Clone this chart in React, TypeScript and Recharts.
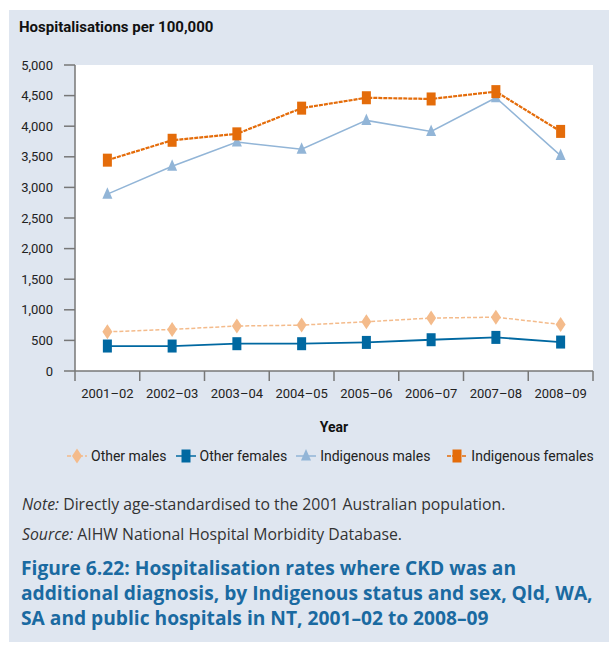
import React from "react";
import { CartesianGrid, Line, LineChart, XAxis, YAxis } from "recharts";

const years = ["2001–02", "2002–03", "2003–04", "2004–05", "2005–06", "2006–07", "2007–08", "2008–09"];
const otherMales = [640, 680, 735, 750, 805, 865, 880, 760];
const otherFemales = [408, 408, 446, 446, 467, 511, 549, 473];
const indigenousMales = [2890, 3345, 3740, 3625, 4095, 3915, 4465, 3520];
const indigenousFemales = [3445, 3770, 3875, 4295, 4465, 4445, 4565, 3915];
const yTicks = [0, 500, 1000, 1500, 2000, 2500, 3000, 3500, 4000, 4500, 5000];

const data = years.map((year, i) => ({
  year,
  otherMales: otherMales[i],
  otherFemales: otherFemales[i],
  indigenousMales: indigenousMales[i],
  indigenousFemales: indigenousFemales[i],
}));

const FONT = "Roboto, 'Noto Sans', sans-serif";
const TEXT_FONT = "'Open Sans', Roboto, sans-serif";
const AXIS = "#777777";
const PLOT_LEFT = 75;
const PLOT_RIGHT = 593;
const BAND = (PLOT_RIGHT - PLOT_LEFT) / years.length;

type Shape = "diamond" | "square" | "triangle";

const series: { key: string; name: string; color: string; width: number; dash?: string; shape: Shape }[] = [
  { key: "otherMales", name: "Other males", color: "#f4bb8b", width: 1.5, dash: "4 2", shape: "diamond" },
  { key: "otherFemales", name: "Other females", color: "#0068a1", width: 1.8, shape: "square" },
  { key: "indigenousMales", name: "Indigenous males", color: "#92b5d7", width: 1.5, shape: "triangle" },
  { key: "indigenousFemales", name: "Indigenous females", color: "#e46c0a", width: 2.2, dash: "4 1", shape: "square" },
];

const Marker = ({ cx, cy, shape, color }: { cx: number; cy: number; shape: Shape; color: string }) => {
  if (shape === "square") return <rect x={cx - 4.5} y={cy - 6.5} width={9} height={13} fill={color} />;
  if (shape === "diamond")
    return <polygon points={`${cx},${cy - 7.5} ${cx + 5},${cy} ${cx},${cy + 7.5} ${cx - 5},${cy}`} fill={color} />;
  return <polygon points={`${cx},${cy - 7} ${cx + 5},${cy + 4.5} ${cx - 5},${cy + 4.5}`} fill={color} />;
};

const XTick = (props: any) => {
  const { x, y, payload, index } = props;
  const last = index === years.length - 1;
  return (
    <g>
      <line x1={x - BAND / 2} x2={x - BAND / 2} y1={y} y2={y + 10} stroke={AXIS} strokeWidth={1.5} />
      {last && <line x1={x + BAND / 2} x2={x + BAND / 2} y1={y} y2={y + 10} stroke={AXIS} strokeWidth={1.5} />}
      <text x={x} y={y + 27} textAnchor="middle" fontSize={13} fill="#222" fontFamily={FONT}>
        {payload.value}
      </text>
    </g>
  );
};

const LegendIcon = ({ s }: { s: (typeof series)[number] }) => (
  <svg width={20} height={16} style={{ display: "block" }}>
    <line x1={0} x2={20} y1={8} y2={8} stroke={s.color} strokeWidth={1.5} strokeDasharray={s.dash} />
    <Marker cx={10} cy={8} shape={s.shape} color={s.color} />
  </svg>
);

export default function App() {
  return (
    <div style={{ position: "absolute", left: 0, top: 0, width: 609, height: 645, background: "#fff", fontFamily: FONT }}>
      <div style={{ position: "absolute", left: 9, top: 10, width: 600, height: 632, background: "#dfe6f0" }} />
      <div style={{ position: "absolute", left: 19, top: 18, fontSize: 15, fontWeight: 700, color: "#111" }}>
        Hospitalisations per 100,000
      </div>
      <div style={{ position: "absolute", left: 0, top: 0 }}>
        <LineChart width={609} height={402} data={data} margin={{ top: 65, right: 609 - PLOT_RIGHT, left: 0, bottom: 0 }}>
          <CartesianGrid fill="#ffffff" horizontal={false} vertical={false} />
          <XAxis
            dataKey="year"
            height={31}
            padding={{ left: BAND / 2, right: BAND / 2 }}
            tickLine={false}
            tickSize={0}
            tickMargin={0}
            axisLine={{ stroke: AXIS, strokeWidth: 1.5 }}
            tick={<XTick />}
            interval={0}
          />
          <YAxis
            width={PLOT_LEFT}
            domain={[0, 5000]}
            ticks={yTicks}
            tickSize={11}
            tickMargin={11}
            tickLine={{ stroke: AXIS, strokeWidth: 1.5 }}
            axisLine={{ stroke: AXIS, strokeWidth: 1.5 }}
            tickFormatter={(v: number) => v.toLocaleString("en-US")}
            tick={{ fontSize: 13, fill: "#222", fontFamily: FONT }}
          />
          {series.map((s) => (
            <Line
              key={s.key}
              dataKey={s.key}
              name={s.name}
              stroke={s.color}
              strokeWidth={s.width}
              strokeDasharray={s.dash}
              isAnimationActive={false}
              activeDot={false}
              dot={(p: any) => <Marker key={`${s.key}-${p.index}`} cx={p.cx} cy={p.cy} shape={s.shape} color={s.color} />}
            />
          ))}
        </LineChart>
      </div>
      <div style={{ position: "absolute", left: 0, width: 609, top: 419, paddingLeft: PLOT_LEFT, boxSizing: "border-box" }}>
        <div style={{ width: PLOT_RIGHT - PLOT_LEFT, textAlign: "center", fontSize: 14, fontWeight: 700, color: "#111" }}>Year</div>
      </div>
      <div style={{ position: "absolute", left: 67, top: 448, display: "flex", alignItems: "center", fontSize: 14, color: "#222" }}>
        {series.map((s, i) => (
          <div key={s.key} style={{ display: "flex", alignItems: "center", marginRight: i === 2 ? 17 : 9 }}>
            <LegendIcon s={s} />
            <span style={{ marginLeft: 4 }}>{s.name}</span>
          </div>
        ))}
      </div>
      <div style={{ position: "absolute", left: 22, top: 493, fontSize: 15.8, color: "#333", fontFamily: TEXT_FONT }}>
        <i>Note:</i> Directly age-standardised to the 2001 Australian population.
      </div>
      <div style={{ position: "absolute", left: 22, top: 523, fontSize: 15.8, color: "#333", fontFamily: TEXT_FONT }}>
        <i>Source:</i> AIHW National Hospital Morbidity Database.
      </div>
      <div
        style={{
          position: "absolute",
          left: 21,
          top: 555,
          fontSize: 19.2,
          lineHeight: "25px",
          fontWeight: 700,
          color: "#1a6aa1",
          whiteSpace: "pre",
          fontFamily: TEXT_FONT,
        }}
      >
        {"Figure 6.22: Hospitalisation rates where CKD was an\nadditional diagnosis, by Indigenous status and sex, Qld, WA,\nSA and public hospitals in NT, 2001–02 to 2008–09"}
      </div>
    </div>
  );
}
